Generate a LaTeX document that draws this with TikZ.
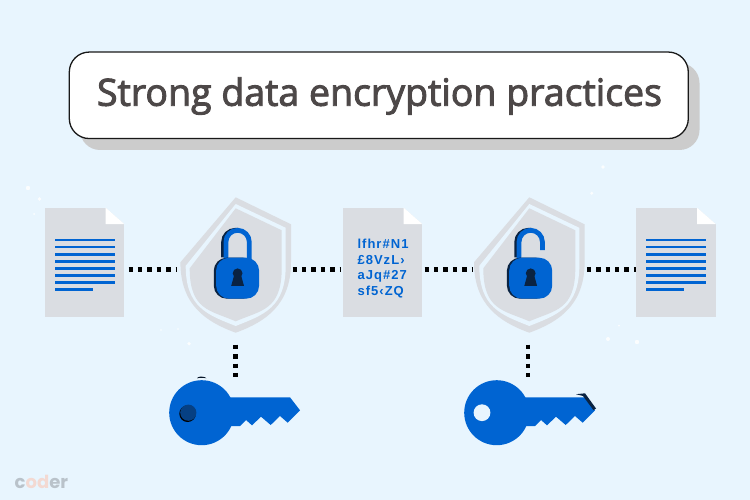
\documentclass[tikz,border=0pt]{standalone}
\usepackage{fontspec}
\setmainfont{Open Sans}
\newfontfamily\titlefont[FakeBold=2.5]{Open Sans}
\newfontfamily\cipherfont[LetterSpace=8]{Liberation Sans}
\newfontfamily\logofont{Poppins}
\definecolor{bgc}{HTML}{E8F5FE}
\definecolor{paper}{HTML}{DADDE2}
\definecolor{ink}{HTML}{0064D2}
\definecolor{deep}{HTML}{0A2342}
\definecolor{titlec}{HTML}{4D4848}
\definecolor{shadowc}{HTML}{CCCCCC}
\definecolor{logog}{HTML}{B9C2CA}
\definecolor{logop}{HTML}{F3D9D2}
\tikzset{
  dotline/.style={line width=4.6pt,dash pattern=on 4.4pt off 5pt,black},
  docbox/.style={rectangle,fill=paper,minimum width=79.8pt,minimum height=109.6pt,inner sep=0pt},
  anchorbox/.style={rectangle,inner sep=0pt,minimum width=#1},
  speck/.style={fill=white,opacity=.85},
  pics/docfold/.style={code={
    \fill[bgc] (-18.7,-.1) -- (.1,-.1) -- (.1,16.4) -- cycle;
    \fill[white] (-18.6,0) -- (0,16.3) -- (-18.6,16.3) -- cycle;
  }},
  pics/doclines/.style={code={
    \foreach \yy in {240,247,254.2,261.3,268.4,275.6,282.7}
      \fill[ink] (0,\yy-1.4) rectangle (59.5,\yy+1.4);
    \fill[ink] (0,289.8-1.4) rectangle (37.8,289.8+1.4);
  }},
  pics/shield/.style={code={
    \fill[paper] \shieldshape{0}{55.3}{27}{135.4};
    \fill[bgc] \shieldshape{6.7}{50}{30.5}{128.7};
    \fill[paper] \shieldshape{11}{46}{33}{124};
  }},
  pics/lockbody/.style={code={
    \fill[deep,rounded corners=13pt] (-23.8,60.4) rectangle (18.5,101.4);
    \fill[ink,rounded corners=13pt] (-21.5,60.4) rectangle (21.5,101.4);
    \fill[deep] (0,76) circle (4.9);
    \fill[deep] (-3.2,77) -- (3.2,77) -- (6.4,88.6) -- (-6.4,88.6) -- cycle;
  }},
  pics/keyshape/.style={code={
    \fill[ink] (201.7,412.7) circle (32.5);
    \fill[ink] (225,397.3) -- (290,397.3) -- (300,410.3) -- (287.7,422.7) -- (280,416) -- (270.7,425)
      -- (261,416.7) -- (252,425.3) -- (246,420) -- (240,426) -- (225,426) -- cycle;
  }},
}
\newcommand\shieldshape[4]{(0,#1) -- (#2,#3) -- (#2,#3+38) .. controls (#2,#3+80) and (#2*0.55,#4-11) .. (0,#4) .. controls (-#2*0.55,#4-11) and (-#2,#3+80) .. (-#2,#3+38) -- cycle}
\begin{document}
\begin{tikzpicture}[x=1pt,y=-1pt]
\useasboundingbox (0,0) rectangle (750,500);
\fill[bgc] (0,0) rectangle (750,500);
% specks
\foreach \px/\py/\pr in {28/188/2.2,39.5/199/1.8,34/214/1,161/330/.8,178/329/.8,603/167/1.8,591.7/193.3/1.6,637/342/2.2,608/339/2,619/325.7/1,189/343.7/1.8}
  \fill[speck] (\px,\py) circle (\pr);
% banner
\fill[shadowc,rounded corners=20pt] (80,63) rectangle (699.5,150);
\node[draw=black!90,line width=1.3pt,fill=white,rounded corners=20pt,minimum width=619pt,minimum height=86.5pt,inner sep=0pt] (banner) at (378.8,95.3) {};
\node[inner sep=0pt,text=titlec,font=\titlefont\fontsize{37.5}{40}\selectfont] (bannertext) at (379.5,96) {Strong data encryption practices};
% documents
\node[docbox] (doc1) at (84.4,262.5) {};
\node[docbox] (doc2) at (382.5,262.5) {};
\node[docbox] (doc3) at (675.9,262.5) {};
\path (124.3,207.7) pic {docfold};
\path (422.3,207.7) pic {docfold};
\path (715.7,207.7) pic {docfold};
\path (55,0) pic {doclines};
\path (646.2,0) pic {doclines};
\node[anchor=north west,align=left,inner sep=0pt,text=ink,font=\cipherfont\bfseries\fontsize{13}{15.6}\selectfont] (cipher) at (357.3,239) {lfhr\#N1\\£8VzL›\\aJq\#27\\sf5‹ZQ};
% shields
\node[anchorbox=110.6pt,minimum height=135.4pt] (shield1) at (235.7,265) {};
\node[anchorbox=110.6pt,minimum height=135.4pt] (shield2) at (529.3,265) {};
\path (235.7,197.3) pic {shield};
\path (529.3,197.3) pic {shield};
% locks
\begin{scope}[shift={(237.6,197.3)}]
  \draw[deep,line width=4.8pt] (-14,60) -- (-14,44.7) arc[start angle=180,end angle=90,radius=11.7pt] -- ++(3,0);
  \draw[ink,line width=4.8pt] (-11.7,62) -- (-11.7,44.7) arc[start angle=180,end angle=0,radius=11.7pt] -- (11.7,62);
  \path (0,0) pic {lockbody};
\end{scope}
\begin{scope}[shift={(530.7,197.3)}]
  \draw[deep,line width=4.8pt] (-14,60) -- (-14,44.7) arc[start angle=180,end angle=90,radius=11.7pt] -- ++(3,0);
  \draw[ink,line width=4.8pt] (-11.7,62) -- (-11.7,44.7) arc[start angle=180,end angle=0,radius=11.7pt] -- (11.7,52.7);
  \path (0,0) pic {lockbody};
\end{scope}
% keys
\node[rectangle,inner sep=0pt,minimum width=131pt,minimum height=65pt] (key1) at (234.5,412.7) {};
\node[rectangle,inner sep=0pt,minimum width=131pt,minimum height=65pt] (key2) at (529.5,412.7) {};
\path (0,0) pic {keyshape};
\fill[deep!60!black] (201.7,376.6) .. controls (198,376.6) and (197,377.8) .. (197,378.3) .. controls (199,377.6) and (204,377.6) .. (206.3,378.3) .. controls (206.3,377.6) and (204,376.6) .. (201.7,376.6);
\fill[black] (187.6,413.7) circle (8.3);
\fill[ink!45!deep] (188.3,412.7) circle (8.1);
\path (295,0) pic {keyshape};
\fill[bgc] (482,412.7) circle (8.4);
\fill[deep] (576,394.2) -- (585,393.3) -- (596,408.5) -- (593.5,410.2) -- (583,396) -- cycle;
% connectors
\draw[dotline,shorten <=4pt,shorten >=3.7pt] ([yshift=-6.8pt]doc1.east) -- ([yshift=-6.8pt]doc1.east -| shield1.west);
\draw[dotline,shorten <=1.3pt,shorten >=1pt] ([yshift=-6.8pt]doc2.west -| shield1.east) -- ([yshift=-6.8pt]doc2.west);
\draw[dotline,shorten <=2pt,shorten >=.7pt] ([yshift=-6.8pt]doc2.east) -- ([yshift=-6.8pt]doc2.east -| shield2.west);
\draw[dotline,shorten <=2pt] ([yshift=-6.8pt]doc3.west -| shield2.east) -- ([yshift=-6.8pt]doc3.west);
\draw[dotline,shorten <=11.8pt,shorten >=2.9pt] ([xshift=-.4pt]shield1.south) -- ([xshift=-.4pt]shield1.south |- key1.north);
\draw[dotline,shorten <=11.8pt,shorten >=2.9pt] ([xshift=-1.3pt]shield2.south) -- ([xshift=-1.3pt]shield2.south |- key2.north);
% logo
\node[anchor=base west,inner sep=0pt,font=\logofont\bfseries\fontsize{18}{18}\selectfont] (logo) at (14.5,488)
  {\textcolor{logog}{c}\textcolor{logop}{od}\textcolor{logog}{er}};
\end{tikzpicture}
\end{document}
